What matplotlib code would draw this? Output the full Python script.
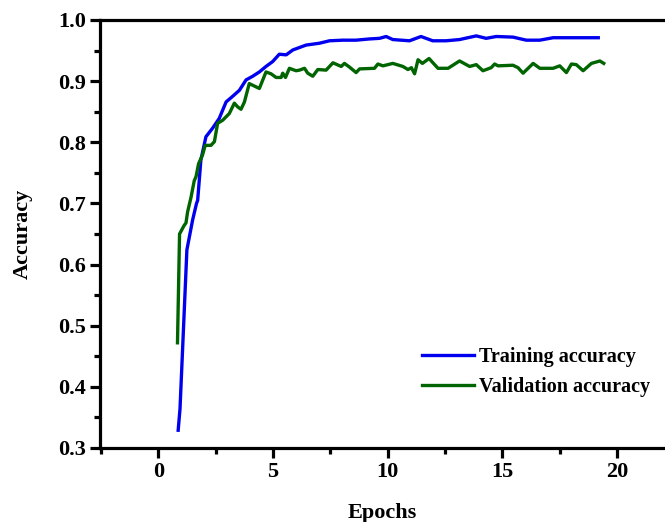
import matplotlib
matplotlib.use("Agg")
import matplotlib.pyplot as plt
from matplotlib.ticker import MultipleLocator

plt.rcParams['font.family'] = ['Liberation Serif', 'DejaVu Serif']
plt.rcParams['font.weight'] = 'bold'

train_x = [0.87, 0.95, 1.25, 1.5, 1.67, 1.72, 1.79, 1.86, 2.08, 2.37, 2.66, 2.96, 3.24, 3.54,
           3.83, 4.12, 4.41, 4.70, 4.99, 5.28, 5.58, 5.87, 6.16, 6.45, 7.03, 7.47, 8.05,
           8.63, 9.21, 9.65, 9.94, 10.23, 10.96, 11.46, 11.97, 12.55, 13.14, 13.87, 14.3,
           14.74, 15.47, 16.05, 16.64, 17.22, 19.19]
train_acc = [0.329, 0.364, 0.624, 0.673, 0.700, 0.705, 0.738, 0.771, 0.809, 0.823, 0.839, 0.866,
             0.875, 0.885, 0.902, 0.908, 0.915, 0.924, 0.932, 0.944, 0.943, 0.951, 0.955,
             0.959, 0.962, 0.966, 0.967, 0.967, 0.969, 0.970, 0.973, 0.968, 0.966, 0.973,
             0.966, 0.966, 0.968, 0.974, 0.970, 0.973, 0.972, 0.967, 0.967, 0.971, 0.971]

val_x = [0.84, 0.93, 1.13, 1.21, 1.28, 1.43, 1.57, 1.65, 1.76, 1.93, 2.05, 2.30, 2.45, 2.59,
         2.81, 3.10, 3.32, 3.46, 3.61, 3.76, 3.97, 4.19, 4.41, 4.70, 4.92, 5.14, 5.36, 5.43,
         5.55, 5.72, 6.01, 6.16, 6.38, 6.52, 6.74, 6.96, 7.32, 7.62, 7.98, 8.12, 8.34, 8.63,
         8.78, 9.43, 9.58, 9.80, 10.23, 10.67, 10.89, 11.04, 11.18, 11.33, 11.52, 11.81,
         12.20, 12.64, 13.14, 13.58, 13.87, 14.16, 14.52, 14.67, 14.82, 15.47, 15.69, 15.91,
         16.35, 16.64, 17.22, 17.51, 17.80, 18.02, 18.23, 18.53, 18.89, 19.26, 19.43]
val_acc = [0.472, 0.650, 0.664, 0.668, 0.686, 0.710, 0.737, 0.744, 0.765, 0.779, 0.795, 0.795,
           0.801, 0.831, 0.836, 0.847, 0.864, 0.858, 0.854, 0.866, 0.896, 0.892, 0.888, 0.915,
           0.912, 0.906, 0.906, 0.913, 0.906, 0.921, 0.917, 0.918, 0.921, 0.913, 0.908, 0.919,
           0.918, 0.930, 0.924, 0.929, 0.923, 0.914, 0.920, 0.921, 0.928, 0.925, 0.929, 0.924,
           0.919, 0.922, 0.912, 0.935, 0.929, 0.937, 0.921, 0.921, 0.933, 0.924, 0.927, 0.917,
           0.922, 0.928, 0.925, 0.926, 0.922, 0.913, 0.929, 0.921, 0.921, 0.925, 0.914, 0.928,
           0.927, 0.917, 0.929, 0.933, 0.929]

fig = plt.figure(figsize=(6.65, 5.22), dpi=100)
ax = fig.add_axes([0.150, 0.1418, 0.850, 0.8199])

ax.plot(train_x, train_acc, color='#0000ee', lw=2.4, label='Training accuracy')
ax.plot(val_x, val_acc, color='#006400', lw=2.4, label='Validation accuracy')

ax.set_xlim(-2.55, 22.1)
ax.set_ylim(0.3, 1.0)
ax.xaxis.set_major_locator(MultipleLocator(5))
ax.xaxis.set_minor_locator(MultipleLocator(2.5))
ax.yaxis.set_major_locator(MultipleLocator(0.1))
ax.yaxis.set_minor_locator(MultipleLocator(0.05))
ax.yaxis.set_major_formatter(plt.FuncFormatter(lambda v, p: f"{v:.1f}"))

for s in ['left', 'bottom', 'top']:
    ax.spines[s].set_linewidth(2.3)
ax.spines['right'].set_visible(False)
ax.tick_params(which='major', direction='out', length=7, width=2.3, labelsize=16, pad=3)
ax.tick_params(which='minor', direction='out', length=4.5, width=2.3)
ax.tick_params(top=False, right=False)

ax.set_xlabel('Epochs', fontsize=16, fontweight='bold', labelpad=15)
ax.set_ylabel('Accuracy', fontsize=16, fontweight='bold', labelpad=18)

leg = ax.legend(loc='lower right', bbox_to_anchor=(1.006, 0.076), frameon=False,
                prop={'size': 14.5, 'weight': 'bold'}, handlelength=2.6, handletextpad=0.25,
                labelspacing=0.5)

fig.savefig('out.png', dpi=100)
